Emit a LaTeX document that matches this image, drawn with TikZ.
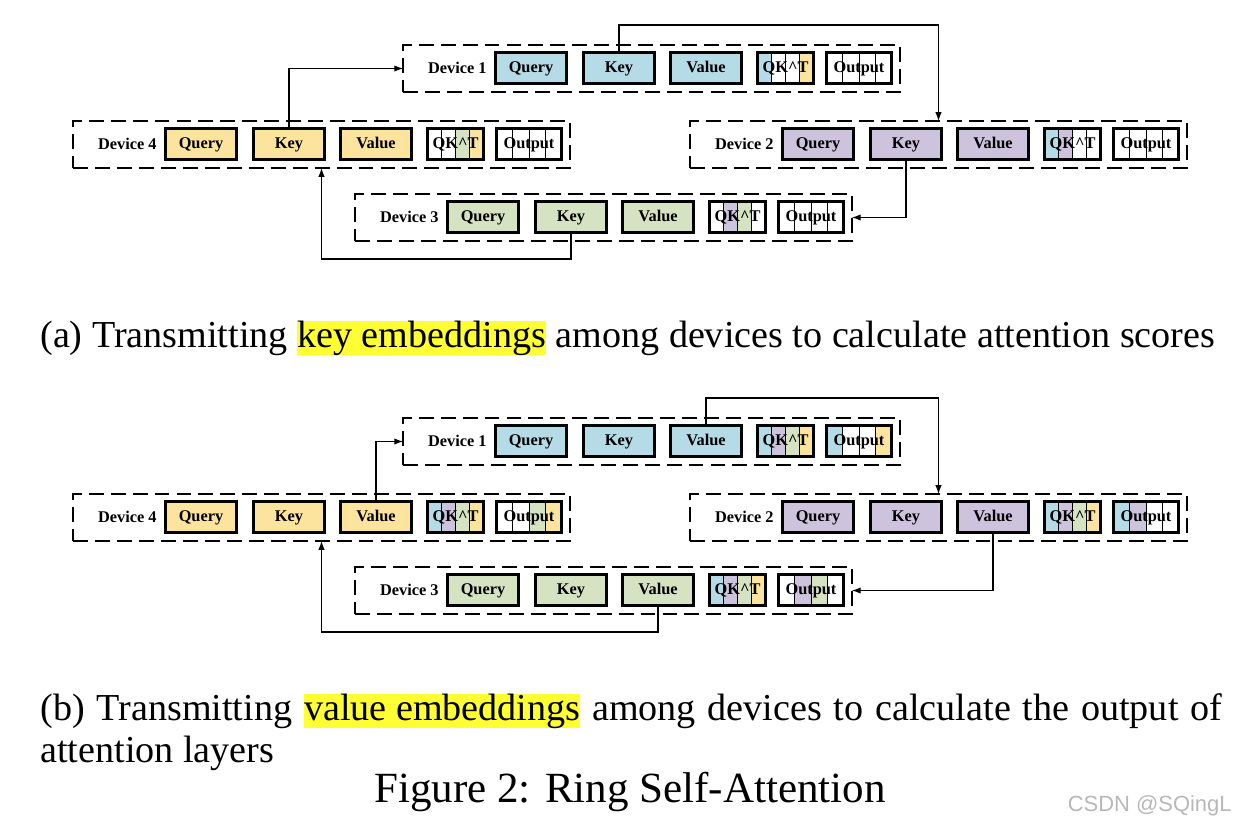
\documentclass[tikz,border=0pt]{standalone}
\usepackage{fontspec}
\setmainfont{Liberation Serif}
\newfontfamily\wmfont{Liberation Sans}
\usetikzlibrary{arrows.meta,calc}
\definecolor{cb}{HTML}{B4DBE6}
\definecolor{cp}{HTML}{CDC3DC}
\definecolor{cg}{HTML}{D6E3C2}
\definecolor{cy}{HTML}{FDE49E}
\definecolor{hly}{HTML}{FFFF33}
\newcommand\hlt[1]{{\setlength\fboxsep{0pt}\colorbox{hly}{\vphantom{(}#1}}}
\tikzset{
  grp/.style    = {draw, line width=0.8pt, dash pattern=on 8.5pt off 4pt, minimum width=9.94cm, minimum height=0.94cm, inner sep=0, outer sep=0},
  box/.style    = {draw, line width=1.7pt, minimum height=0.62cm, inner sep=0, text height=6.6pt, text depth=2pt, font=\fontsize{9.3}{11}\selectfont\bfseries},
  emb/.style    = {box, minimum width=1.42cm},
  qk/.style     = {box, minimum width=1.12cm},
  outbox/.style = {box, minimum width=1.30cm},
  dev/.style    = {anchor=east, inner sep=0, font=\fontsize{9.3}{11}\selectfont\bfseries},
  cols/.style n args = {4}{path picture={
    \foreach \cc/\fa/\fb in {#1/0/.25,#2/.25/.5,#3/.5/.75,#4/.75/1}
      \fill[\cc] ($(path picture bounding box.south west)!\fa!(path picture bounding box.south east)$) rectangle ($(path picture bounding box.north west)!\fb!(path picture bounding box.north east)$);
    \foreach \fa in {.25,.5,.75}
      \draw[line width=0.5pt] ($(path picture bounding box.south west)!\fa!(path picture bounding box.south east)$) -- ($(path picture bounding box.north west)!\fa!(path picture bounding box.north east)$);
  }},
  arr/.style    = {line width=0.6pt, -{Latex[length=5pt,width=3.6pt]}},
  captxt/.style = {inner sep=0, font=\fontsize{21.7}{26}\selectfont}
}

\begin{document}
\begin{tikzpicture}[x=0.02cm, y=-0.02cm]
  \useasboundingbox (0,0) rectangle (1235,825);

  % ---- (a) key embeddings ----
  \begin{scope}
    \node[grp] (a1) at (651.5,68.5) {};
    \node[dev] at (487,68) {Device 1};
    \node[emb,fill=cb] (a1q) at (531,68) {Query};
    \node[emb,fill=cb] (a1k) at (619,68) {Key};
    \node[emb,fill=cb] (a1v) at (706,68) {Value};
    \node[qk,cols={cb}{white}{white}{cy}] (a1s) at (785.5,68) {QK\textasciicircum T};
    \node[outbox,cols={white}{white}{white}{white}] (a1o) at (859,68) {Output};
  \end{scope}
  \begin{scope}[shift={(287,76)}]
    \node[grp] (a2) at (651.5,68.5) {};
    \node[dev] at (487,68) {Device 2};
    \node[emb,fill=cp] (a2q) at (531,68) {Query};
    \node[emb,fill=cp] (a2k) at (619,68) {Key};
    \node[emb,fill=cp] (a2v) at (706,68) {Value};
    \node[qk,cols={cb}{cp}{white}{white}] (a2s) at (785.5,68) {QK\textasciicircum T};
    \node[outbox,cols={white}{white}{white}{white}] (a2o) at (859,68) {Output};
  \end{scope}
  \begin{scope}[shift={(-48,149)}]
    \node[grp] (a3) at (651.5,68.5) {};
    \node[dev] at (487,68) {Device 3};
    \node[emb,fill=cg] (a3q) at (531,68) {Query};
    \node[emb,fill=cg] (a3k) at (619,68) {Key};
    \node[emb,fill=cg] (a3v) at (706,68) {Value};
    \node[qk,cols={white}{cp}{cg}{white}] (a3s) at (785.5,68) {QK\textasciicircum T};
    \node[outbox,cols={white}{white}{white}{white}] (a3o) at (859,68) {Output};
  \end{scope}
  \begin{scope}[shift={(-330,76)}]
    \node[grp] (a4) at (651.5,68.5) {};
    \node[dev] at (487,68) {Device 4};
    \node[emb,fill=cy] (a4q) at (531,68) {Query};
    \node[emb,fill=cy] (a4k) at (619,68) {Key};
    \node[emb,fill=cy] (a4v) at (706,68) {Value};
    \node[qk,cols={white}{white}{cg}{cy}] (a4s) at (785.5,68) {QK\textasciicircum T};
    \node[outbox,cols={white}{white}{white}{white}] (a4o) at (859,68) {Output};
  \end{scope}

  \draw[arr] (a1k.north) -- ++(0,-26) -| (a2.north);
  \draw[arr] (a2k.south) |- (a3.east);
  \draw[arr] (a3k.south) -- ++(0,25) -| (a4.south);
  \draw[arr] (a4k.north) |- (a1.west);

  \node[captxt,anchor=base west] (capa) at (40,347) {(a) Transmitting \hlt{key embeddings} among devices to calculate attention scores};

  % ---- (b) value embeddings ----
  \begin{scope}[shift={(0,373)}]
    \node[grp] (b1) at (651.5,68.5) {};
    \node[dev] at (487,68) {Device 1};
    \node[emb,fill=cb] (b1q) at (531,68) {Query};
    \node[emb,fill=cb] (b1k) at (619,68) {Key};
    \node[emb,fill=cb] (b1v) at (706,68) {Value};
    \node[qk,cols={cb}{cp}{cg}{cy}] (b1s) at (785.5,68) {QK\textasciicircum T};
    \node[outbox,cols={cb}{white}{white}{cy}] (b1o) at (859,68) {Output};
  \end{scope}
  \begin{scope}[shift={(287,449)}]
    \node[grp] (b2) at (651.5,68.5) {};
    \node[dev] at (487,68) {Device 2};
    \node[emb,fill=cp] (b2q) at (531,68) {Query};
    \node[emb,fill=cp] (b2k) at (619,68) {Key};
    \node[emb,fill=cp] (b2v) at (706,68) {Value};
    \node[qk,cols={cb}{cp}{cg}{cy}] (b2s) at (785.5,68) {QK\textasciicircum T};
    \node[outbox,cols={cb}{cp}{white}{white}] (b2o) at (859,68) {Output};
  \end{scope}
  \begin{scope}[shift={(-48,522)}]
    \node[grp] (b3) at (651.5,68.5) {};
    \node[dev] at (487,68) {Device 3};
    \node[emb,fill=cg] (b3q) at (531,68) {Query};
    \node[emb,fill=cg] (b3k) at (619,68) {Key};
    \node[emb,fill=cg] (b3v) at (706,68) {Value};
    \node[qk,cols={cb}{cp}{cg}{cy}] (b3s) at (785.5,68) {QK\textasciicircum T};
    \node[outbox,cols={white}{cp}{cg}{white}] (b3o) at (859,68) {Output};
  \end{scope}
  \begin{scope}[shift={(-330,449)}]
    \node[grp] (b4) at (651.5,68.5) {};
    \node[dev] at (487,68) {Device 4};
    \node[emb,fill=cy] (b4q) at (531,68) {Query};
    \node[emb,fill=cy] (b4k) at (619,68) {Key};
    \node[emb,fill=cy] (b4v) at (706,68) {Value};
    \node[qk,cols={cb}{cp}{cg}{cy}] (b4s) at (785.5,68) {QK\textasciicircum T};
    \node[outbox,cols={white}{white}{cg}{cy}] (b4o) at (859,68) {Output};
  \end{scope}

  \draw[arr] (b1v.north) -- ++(0,-26) -| (b2.north);
  \draw[arr] (b2v.south) |- (b3.east);
  \draw[arr] (b3v.south) -- ++(0,25) -| (b4.south);
  \draw[arr] (b4v.north) |- (b1.west);

  \node[captxt,anchor=base west] (capb) at (40,720) {\makebox[23.64cm][s]{(b) Transmitting \hlt{value embeddings} among devices to calculate the output of}};
  \node[captxt,anchor=base west] (capc) at (40,762) {attention layers};
  \node[captxt,anchor=base,font=\fontsize{24.5}{29}\selectfont] (fig) at (630,802) {Figure 2: Ring Self-Attention};
  \node[anchor=base east,inner sep=0,text=black!28,font=\wmfont\fontsize{12.5}{14}\selectfont] (wm) at (1232,811) {CSDN @SQingL};
\end{tikzpicture}
\end{document}
